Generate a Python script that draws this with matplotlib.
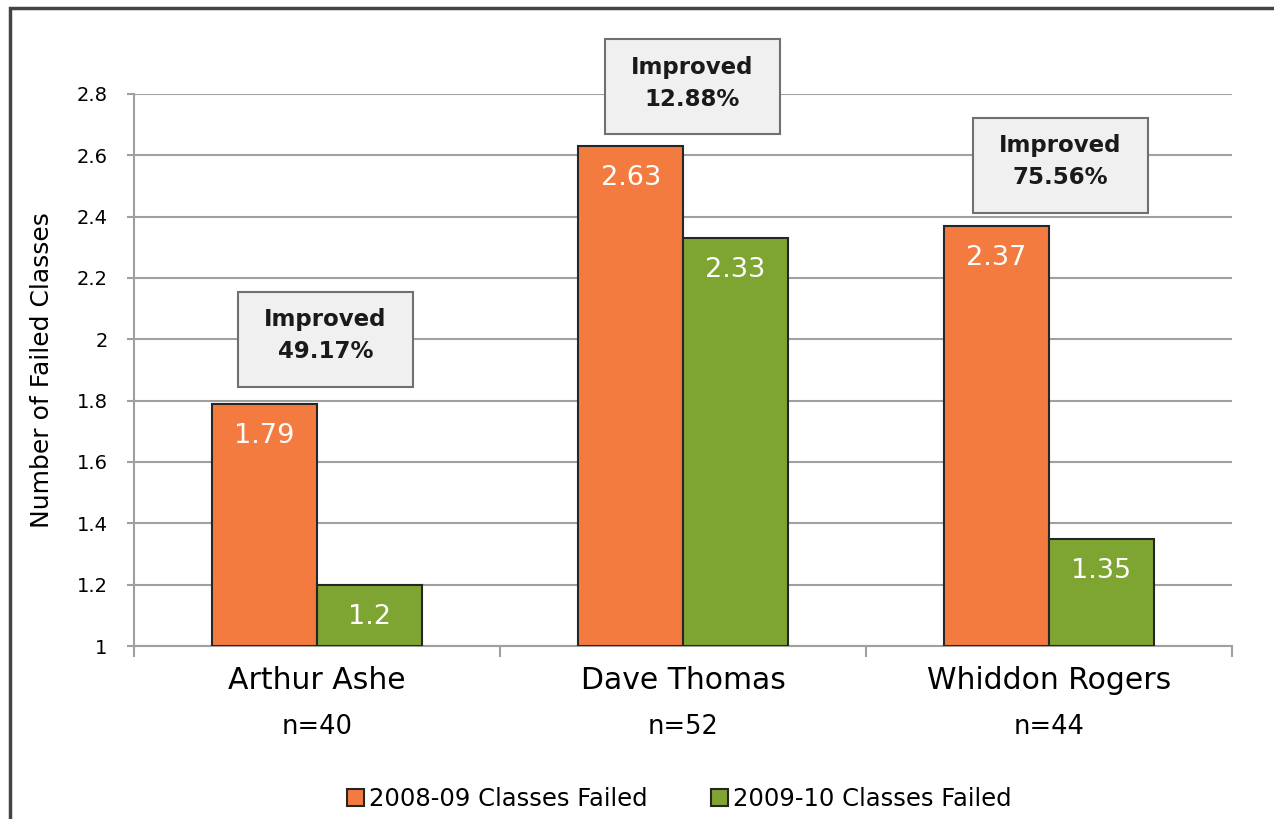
import matplotlib
matplotlib.use("Agg")
import matplotlib.pyplot as plt
from matplotlib.patches import Rectangle
from matplotlib.ticker import FormatStrFormatter

# data
schools = ["Arthur Ashe", "Dave Thomas", "Whiddon Rogers"]
n_students = ["n=40", "n=52", "n=44"]
failed_0809 = [1.79, 2.63, 2.37]
failed_0910 = [1.2, 2.33, 1.35]
improved = ["49.17%", "12.88%", "75.56%"]
series_names = ["2008-09 Classes Failed", "2009-10 Classes Failed"]

# layout of the "Improved" callouts (data coords)
box_xy = [(0.023, 2.0), (1.025, 2.823), (2.031, 2.567)]
box_w, box_h = 0.478, 0.31

ORANGE = "#f47b40"
GREEN = "#7ea432"
GRID = "#a0a0a0"

plt.rcParams['font.family'] = ['DejaVu Sans']

fig = plt.figure(figsize=(12.74, 8.19), dpi=100)
ax = fig.add_axes([134 / 1274, 173 / 819, 1098 / 1274, 552 / 819])

w = 0.286
xs = range(len(schools))
b1 = ax.bar([x - w / 2 for x in xs], [v - 1 for v in failed_0809], w, bottom=1,
            color=ORANGE, edgecolor="#262626", linewidth=1.5, zorder=3,
            label=series_names[0])
b2 = ax.bar([x + w / 2 for x in xs], [v - 1 for v in failed_0910], w, bottom=1,
            color=GREEN, edgecolor="#262626", linewidth=1.5, zorder=3,
            label=series_names[1])

for bars, vals in [(b1, failed_0809), (b2, failed_0910)]:
    for rect, v in zip(bars, vals):
        ax.annotate("%g" % v, (rect.get_x() + rect.get_width() / 2, v),
                    xytext=(0, -23), textcoords="offset points",
                    ha="center", va="center", color="white", fontsize=19.5,
                    zorder=4)

for (bx, by), pct in zip(box_xy, improved):
    ax.add_patch(Rectangle((bx - box_w / 2, by - box_h / 2), box_w, box_h,
                           facecolor="#f0f0f0", edgecolor="#707070",
                           linewidth=1.5, zorder=5, clip_on=False))
    ax.text(bx, by + 0.012, "Improved\n" + pct, ha="center", va="center",
            fontsize=16.5, fontweight="bold", color="#1a1a1a",
            linespacing=1.5, zorder=6)

ax.set_xlim(-0.5, 2.5)
ax.set_ylim(1, 2.8)
ax.set_yticks([1 + 0.2 * i for i in range(10)])
ax.yaxis.set_major_formatter(FormatStrFormatter("%g"))
ax.yaxis.grid(True, color=GRID, linewidth=1.5, zorder=0)
ax.set_axisbelow(True)

ax.set_xticks([-0.5, 0.5, 1.5, 2.5])
ax.set_xticklabels([])
ax.tick_params(axis="x", length=8, width=1.5, color=GRID)
ax.tick_params(axis="y", length=5, width=1.5, color=GRID, labelsize=14, pad=14)

for s in ["top", "right"]:
    ax.spines[s].set_visible(False)
for s in ["left", "bottom"]:
    ax.spines[s].set_color(GRID)
    ax.spines[s].set_linewidth(1.5)

for x, name, n in zip(xs, schools, n_students):
    ax.text(x, -0.062, name, transform=ax.get_xaxis_transform(),
            ha="center", va="center", fontsize=21.5)
    ax.text(x, -0.147, n, transform=ax.get_xaxis_transform(),
            ha="center", va="center", fontsize=18.5)

ax.set_ylabel("Number of Failed Classes", fontsize=18, labelpad=16)

fig.legend(handles=[b1, b2], loc="center", bbox_to_anchor=(0.533, 0.024),
           ncol=2, frameon=False, fontsize=17.5, handlelength=0.7,
           handleheight=0.7, handletextpad=0.2, columnspacing=2.6)

# outer chart frame
fig.patches.append(Rectangle((10 / 1274, -0.2), 1.3, 1.2 - 8 / 819,
                             transform=fig.transFigure, fill=False,
                             edgecolor="#444444", linewidth=2.5))

fig.savefig("out.png", dpi=100)
